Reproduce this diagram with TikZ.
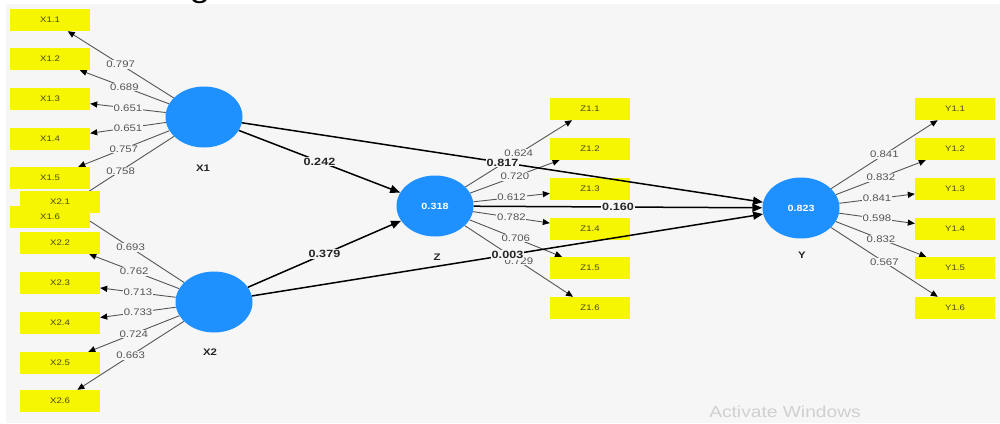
\documentclass[tikz,border=0pt]{standalone}
\usepackage{fontspec}
\setmainfont{Liberation Sans}[FakeStretch=1.2]
\usetikzlibrary{shapes.geometric,arrows.meta,calc}
\definecolor{bgc}{HTML}{F6F6F6}
\definecolor{plsblue}{HTML}{1E90FF}
\definecolor{plsyellow}{HTML}{F6F600}
\definecolor{ldgray}{HTML}{555555}
\definecolor{boxtxt}{HTML}{4A4A18}
\definecolor{wmgray}{HTML}{D0D0D0}
\pgfdeclarelayer{bgl}
\pgfdeclarelayer{edgel}
\pgfdeclarelayer{frontl}
\pgfsetlayers{bgl,edgel,main,frontl}
\begin{document}
\begin{tikzpicture}[x=1pt,y=-1pt,
  lv/.style={ellipse, fill=plsblue, minimum width=77pt, minimum height=61pt, inner sep=0pt,
    text=white, font=\fontsize{9}{10}\selectfont\bfseries},
  ind/.style={rectangle, fill=plsyellow, minimum width=80pt, minimum height=22pt, inner sep=0pt,
    text=boxtxt, font=\fontsize{8}{9}\selectfont},
  lvname/.style={font=\fontsize{9.5}{10}\selectfont\bfseries, text=black!85},
  load/.style={draw=ldgray, line width=0.9pt, -{Triangle[length=7pt,width=6pt,color=black]}},
  loadlbl/.style={font=\fontsize{9.5}{10}\selectfont, text=ldgray, fill=bgc, inner sep=0.8pt},
  pth/.style={draw=black, line width=1.5pt, -{Triangle[length=10pt,width=8pt]}},
  pthlbl/.style={font=\fontsize{10.5}{11}\selectfont\bfseries, text=black!85, fill=bgc, inner sep=1pt},
  wm/.style={font=\fontsize{16}{18}\selectfont, text=wmgray}
]
\useasboundingbox (0,0) rectangle (1000,423);
\begin{pgfonlayer}{bgl}
  \fill[white] (0,0) rectangle (1000,423);
  \fill[bgc] (6,4) rectangle (1000,423);
  \begin{scope}
    \clip (0,0) rectangle (1000,4);
    \node[anchor=base, font=\fontsize{30}{30}\selectfont] (ttl) at (200,-2) {g};
  \end{scope}
\end{pgfonlayer}

% latent variables
\node[lv] (lvX1) at (204,117) {};
\node[lv] (lvX2) at (214,302) {};
\node[lv] (lvZ) at (435,206) {0.318};
\node[lv] (lvY) at (801,208) {0.823};
\node[lvname] (nX1) at (203,168) {X1};
\node[lvname] (nX2) at (210,352) {X2};
\node[lvname] (nZ) at (437,257) {Z};
\node[lvname] (nY) at (802,255) {Y};

% indicators
\node[ind] (a1) at (50,20) {X1.1};
\node[ind] (a2) at (50,59) {X1.2};
\node[ind] (a3) at (50,99) {X1.3};
\node[ind] (a4) at (50,139) {X1.4};
\node[ind] (a5) at (50,178) {X1.5};
\node[ind] (b1) at (60,201.5) {X2.1};
\node[ind] (a6) at (50,216.5) {X1.6};
\node[ind] (b2) at (60,243) {X2.2};
\node[ind] (b3) at (60,283) {X2.3};
\node[ind] (b4) at (60,323) {X2.4};
\node[ind] (b5) at (60,363) {X2.5};
\node[ind] (b6) at (60,401) {X2.6};
\foreach \i/\yy in {1/109,2/149,3/189,4/229,5/268,6/308}{
  \node[ind] (c\i) at (590,\yy) {Z1.\i};
  \node[ind] (d\i) at (955,\yy) {Y1.\i};
}

% loadings
\begin{pgfonlayer}{edgel}
  \foreach \i/\v in {1/0.797,2/0.689,3/0.651,4/0.651,5/0.757,6/0.758}
    \draw[load] (lvX1) -- node[loadlbl]{\v} (a\i);
  \foreach \i/\v in {1/0.693,2/0.762,3/0.713,4/0.733,5/0.724,6/0.663}
    \draw[load] (lvX2) -- node[loadlbl]{\v} (b\i);
  \foreach \i/\v in {1/0.624,2/0.720,3/0.612,4/0.782,5/0.706,6/0.729}
    \draw[load] (lvZ) -- node[loadlbl]{\v} (c\i);
  \foreach \i/\v in {1/0.841,2/0.832,3/0.841,4/0.598,5/0.832,6/0.567}
    \draw[load] (lvY) -- node[loadlbl]{\v} (d\i);
\end{pgfonlayer}

% structural paths
\begin{pgfonlayer}{frontl}
  \draw[pth] (lvX1) -- node[pthlbl]{0.242} (lvZ);
  \draw[pth] (lvX2) -- node[pthlbl]{0.379} (lvZ);
  \draw[pth] (lvX1) -- node[pthlbl]{0.817} (lvY);
  \draw[pth] (lvX2) -- node[pthlbl]{0.003} (lvY);
  \draw[pth] (lvZ) -- node[pthlbl]{0.160} (lvY);
\end{pgfonlayer}

\node[wm] (wmark) at (785,412) {Activate Windows};
\end{tikzpicture}
\end{document}
